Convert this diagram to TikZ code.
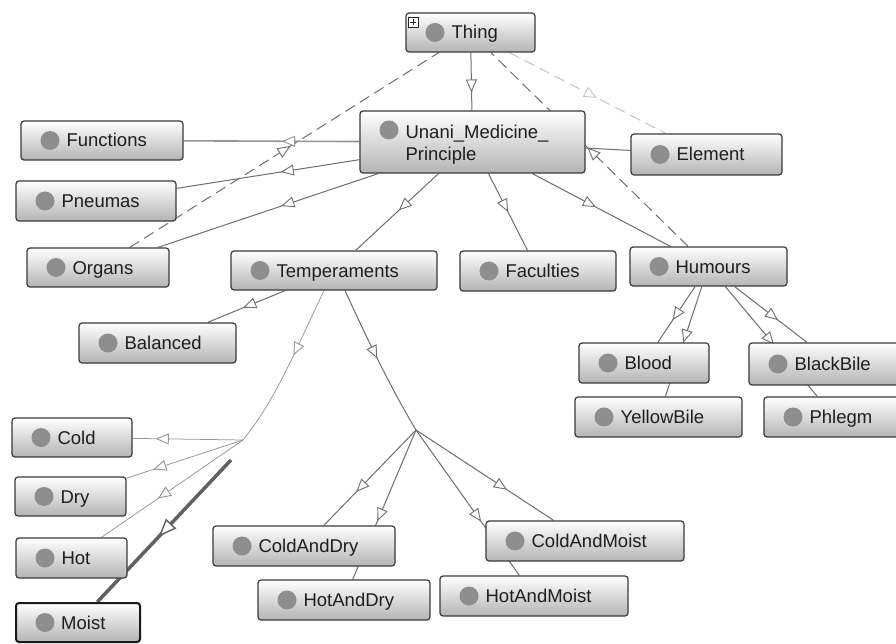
\documentclass[tikz,border=0pt]{standalone}
\usepackage{fontspec}
\setmainfont{Liberation Sans}
\usetikzlibrary{arrows.meta,decorations.markings,fit,calc}
\definecolor{boxline}{HTML}{3A3A3A}
\definecolor{boxbot}{HTML}{B4B4B4}
\definecolor{dotc}{HTML}{8E8E8E}
\definecolor{edgec}{HTML}{6E6E6E}
\definecolor{edgelt}{HTML}{959595}
\definecolor{dashlt}{HTML}{C4C4C4}
\definecolor{txtc}{HTML}{1E1E1E}
\pgfdeclarelayer{back}
\pgfdeclarelayer{bg}
\pgfsetlayers{back,bg,main}
\tikzset{
  dotpic/.style={path picture={\fill[dotc] ([xshift=29pt,yshift=#1]path picture bounding box.west) circle (9.5pt);}},
  cls/.style={draw=boxline, line width=1.2pt, rounded corners=3pt, top color=white, bottom color=boxbot, inner sep=0pt, dotpic=0pt},
  txt/.style={anchor=west, xshift=46pt, inner sep=0pt, text height=13pt, text depth=0pt, font=\fontsize{18.5}{22}\selectfont, text=txtc},
  link/.style={draw=edgec, line width=1pt},
  linklt/.style={draw=edgelt, line width=0.75pt},
  dashline/.style={dash pattern=on 11pt off 6pt},
  arrowat/.style={postaction={decorate}, decoration={markings, mark=at position #1 with {\arrow{Triangle[length=13pt,width=11pt,fill=white,line width=0.9pt]}}}},
  arrowbig/.style={postaction={decorate}, decoration={markings, mark=at position #1 with {\arrow{Triangle[length=18pt,width=14pt,fill=white,line width=1.4pt]}}}},
}
\begin{document}
\begin{tikzpicture}[x=1pt,y=-1pt]
\useasboundingbox (0,0) rectangle (896,644);
\clip (0,0) rectangle (896,644);
\begin{pgfonlayer}{back}
\fill[white] (0,0) rectangle (896,644);
\end{pgfonlayer}

% classes
\node[cls, fit={(406,13) (535,52)}, label={[txt]west:Thing}] (thing) {};
\node[cls, dotpic=12pt, fit={(360,111) (585,173)}, label={[txt, anchor=north west, yshift=-14pt, text height=, text depth=, align=left]north west:Unani\_Medicine\_\\Principle}] (unani) {};
\node[cls, fit={(21,121) (183,160)}, label={[txt]west:Functions}] (functions) {};
\node[cls, fit={(16,181) (176,221)}, label={[txt]west:Pneumas}] (pneumas) {};
\node[cls, fit={(27,248) (169,287)}, label={[txt]west:Organs}] (organs) {};
\node[cls, fit={(231,251) (437,290)}, label={[txt]west:Temperaments}] (temp) {};
\node[cls, fit={(460,251) (616,291)}, label={[txt]west:Faculties}] (faculties) {};
\node[cls, fit={(630,247) (787,286)}, label={[txt]west:Humours}] (humours) {};
\node[cls, fit={(631,134) (782,175)}, label={[txt]west:Element}] (element) {};
\node[cls, fit={(79,323) (236,363)}, label={[txt]west:Balanced}] (balanced) {};
\node[cls, fit={(12,418) (132,457)}, label={[txt]west:Cold}] (cold) {};
\node[cls, fit={(15,477) (126,516)}, label={[txt]west:Dry}] (dry) {};
\node[cls, fit={(16,538) (127,578)}, label={[txt]west:Hot}] (hot) {};
\node[cls, draw=black!90, line width=2pt, fit={(16,603) (140,642)}, label={[txt]west:Moist}] (moist) {};
\node[cls, fit={(213,526) (395,566)}, label={[txt]west:ColdAndDry}] (coldanddry) {};
\node[cls, fit={(258,580) (430,620)}, label={[txt]west:HotAndDry}] (hotanddry) {};
\node[cls, fit={(486,521) (684,561)}, label={[txt]west:ColdAndMoist}] (coldandmoist) {};
\node[cls, fit={(440,576) (628,616)}, label={[txt]west:HotAndMoist}] (hotandmoist) {};
\node[cls, fit={(579,343) (709,383)}, label={[txt]west:Blood}] (blood) {};
\node[cls, fit={(575,397) (742,437)}, label={[txt]west:YellowBile}] (yellowbile) {};
\node[cls, fit={(749,343) (921,385)}, label={[txt]west:BlackBile}] (blackbile) {};
\node[cls, fit={(764,397) (905,437)}, label={[txt]west:Phlegm}] (phlegm) {};

% expand marker on Thing
\draw[fill=white, draw=black!85, line width=0.6pt] ([shift={(3,5)}]thing.north west) rectangle +(10,10);
\draw[black!85, line width=0.8pt] ([shift={(5,10)}]thing.north west) -- +(6,0);
\draw[black!85, line width=0.8pt] ([shift={(8,7)}]thing.north west) -- +(0,6);

% junctions
\coordinate (j1) at (243,440);
\coordinate (j2) at (416,430);
\coordinate (mst) at (231,460);

\begin{pgfonlayer}{bg}
% dashed links to Thing
\draw[link, dashline, arrowat=0.52] (organs) -- (thing);
\draw[link, dashline, arrowat=0.51] (humours) -- (thing);
\draw[link, draw=dashlt, dashline, arrowat=0.56] (thing) -- (element);
% Thing and Unani_Medicine_Principle
\draw[link, arrowat=0.69] (thing) -- (unani);
\draw[link, line width=1.6pt, draw=edgelt, arrowat=0.44] (unani) -- (functions);
\draw[link, arrowat=0.43] (unani) -- (pneumas);
\draw[link, arrowat=0.44] (unani) -- (organs);
\draw[link, arrowat=0.48] (unani) -- (temp);
\draw[link, arrowat=0.5] (unani) -- (faculties);
\draw[link, arrowat=0.46] (unani) -- (humours);
\draw[link] (element) -- (unani);
% Temperaments
\draw[link, arrowat=0.54] (temp) -- (balanced);
\draw[linklt, arrowat=0.42] ([xshift=-10pt]temp.south) .. controls (290,362) and (275,400) .. (j1);
\draw[link, arrowat=0.48] ([xshift=11pt]temp.south) .. controls (370,345) and (392,390) .. (j2);
\draw[linklt, arrowat=0.79] (j1) -- (cold);
\draw[linklt, arrowat=0.77] (j1) -- (dry);
\draw[linklt, arrowat=0.6] (j1) -- (hot);
\draw[draw=black!62, line width=3.5pt, arrowbig=0.54] (mst) -- (moist);
\draw[link, arrowat=0.65] (j2) -- (coldanddry);
\draw[link, arrowat=0.61] (j2) -- (hotanddry);
\draw[link, arrowat=0.63] (j2) -- (hotandmoist);
\draw[link, arrowat=0.66] (j2) -- (coldandmoist);
% Humours
\draw[link, arrowat=0.6] (humours) -- (blood);
\draw[link, arrowat=0.51] (humours) -- (yellowbile);
\draw[link, arrowat=0.6] (humours) -- (blackbile);
\draw[link, arrowat=0.53] (humours) -- (phlegm);
\end{pgfonlayer}
\end{tikzpicture}
\end{document}
